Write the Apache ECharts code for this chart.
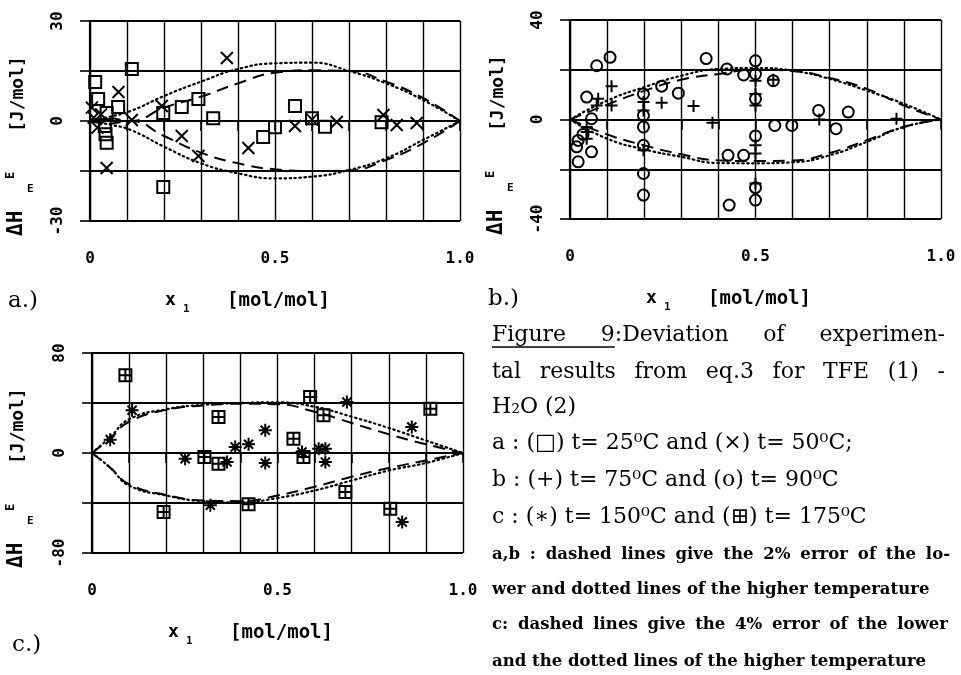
<!DOCTYPE html>
<html><head><meta charset="utf-8">
<script src="https://cdn.jsdelivr.net/npm/echarts@6/dist/echarts.min.js"></script>
<style>html,body{margin:0;padding:0;background:#fff}#c{width:961px;height:675px}</style>
</head><body><div id="c"></div>
<script>
// ---------- data ----------
// tick labels
const xTickVals = [0, 0.5, 1.0];
const xTickText = ['0', '0.5', '1.0'];
const yTickA = [-30, 0, 30];
const yTickB = [-40, 0, 40];
const yTickC = [-80, 0, 80];

// panel a: error curves (2% of the lower (dashed) and higher (dotted) temperature)
const aCurveX  = [0, 0.05, 0.11, 0.2, 0.3, 0.4, 0.5, 0.6, 0.7, 0.8, 0.9, 1.0];
const aDashUp  = [0, 0.8, 0, 4, 7.3, 11.3, 14.5, 15.2, 15, 11.8, 6.9, 0];
const aDashLo  = [0, -0.8, 0, -4.5, -9.5, -12.7, -14.5, -15, -14.8, -11.7, -6.7, 0];
const aDotUp   = [0, 1.2, 3, 7.5, 11.8, 15.6, 17.3, 17.5, 15, 11.3, 6.3, 0];
const aDotLo   = [0, -1, -2.7, -7.7, -12.7, -15.7, -17.2, -16.7, -14.7, -11.2, -5.7, 0];
// panel a: points, t = 25 C (squares) and t = 50 C (crosses)
const a25X = [0.014, 0.022, 0.045, 0.076, 0.113, 0.04, 0.042, 0.045, 0.198, 0.198, 0.248, 0.293, 0.333, 0.468, 0.5, 0.554, 0.6, 0.635, 0.788];
const a25Y = [11.7, 6.6, 2.4, 4.2, 15.6, -1.5, -4, -6.5, 2.4, -19.8, 4.2, 6.6, 0.8, -4.8, -1.9, 4.5, 0.8, -1.7, -0.4];
const a50X = [0.005, 0.01, 0.02, 0.03, 0.045, 0.077, 0.113, 0.194, 0.248, 0.293, 0.37, 0.428, 0.554, 0.6, 0.667, 0.793, 0.829, 0.883];
const a50Y = [4, 1, -2, 2, -14.1, 8.7, 0.3, 4.5, -4.5, -10.5, 18.9, -8.1, -1.5, 0.5, -0.3, 1.8, -1.2, -0.6];

// panel b
const bCurveX  = [0, 0.1, 0.2, 0.3, 0.4, 0.5, 0.6, 0.7, 0.8, 0.9, 1.0];
const bDashUp  = [0, 6, 11.5, 16, 18.3, 20, 19.5, 16.7, 12.3, 5.6, 0];
const bDashLo  = [0, -6, -10.4, -14, -16.4, -16.7, -16.5, -13.5, -8.3, -3, 0];
const bDotUp   = [0, 7.6, 13, 17.6, 20.3, 20.7, 19.6, 16.3, 11.6, 6.3, 0];
const bDotLo   = [0, -7.7, -12, -15, -17.5, -17.6, -17.2, -14.4, -9, -3, 0];
// t = 75 C (plus) and t = 90 C (circles)
const b75X = [0.045, 0.045, 0.045, 0.072, 0.076, 0.112, 0.112, 0.198, 0.198, 0.198, 0.247, 0.333, 0.384, 0.5, 0.5, 0.5, 0.5, 0.5, 0.5, 0.548, 0.672, 0.88];
const b75Y = [-3, -5, -7.7, 5.6, 8.3, 13.4, 5.6, 7, 3.6, -12.4, 6.7, 5.4, -1.3, 15.6, 10.3, 5.6, -10.4, -13.7, -25.7, 16, 0, 0.3];
const b90X = [0.018, 0.022, 0.022, 0.035, 0.045, 0.058, 0.058, 0.072, 0.108, 0.198, 0.198, 0.198, 0.198, 0.198, 0.198, 0.247, 0.292, 0.367, 0.423, 0.426, 0.429, 0.468, 0.468, 0.5, 0.5, 0.5, 0.5, 0.5, 0.5, 0.548, 0.552, 0.598, 0.67, 0.717, 0.75];
const b90Y = [-11, -8.4, -17, -6, 9, 0.3, -13, 21.6, 25, 10.3, 1.6, -3, -10.4, -21.7, -30.4, 13.4, 10.6, 24.5, 20.3, -14.4, -34.4, 17.9, -14.4, 23.6, 18.3, 8.3, -6.6, -27.4, -32.4, 15.6, -2.4, -2.4, 3.6, -3.7, 3];

// panel c (4% error)
const cCurveX  = [0, 0.05, 0.1, 0.2, 0.3, 0.4, 0.5, 0.6, 0.7, 0.8, 0.9, 1.0];
const cDashUp  = [0, 12, 25, 34.5, 38, 39.5, 39, 33, 24, 15, 7, 0];
const cDashLo  = [0, -12, -25, -33.5, -38, -38.5, -34, -27, -19, -12, -6, 0];
const cDotUp   = [0, 13, 27, 35, 38.5, 40, 40.5, 37, 29, 20, 10, 0];
const cDotLo   = [0, -12, -26, -34, -38.5, -39.5, -36, -30, -22, -14, -8, 0];
// t = 150 C (asterisks) and t = 175 C (boxed plus)
const c150X = [0.049, 0.108, 0.251, 0.319, 0.364, 0.386, 0.422, 0.467, 0.467, 0.566, 0.611, 0.629, 0.629, 0.687, 0.836, 0.862];
const c150Y = [10.7, 34.2, -4.5, -41.8, -7.2, 4.8, 7, 18.2, -8, 0.8, 3.5, 3.5, -7.2, 40.8, -55.2, 20.8];
const c175X = [0.09, 0.193, 0.303, 0.341, 0.341, 0.422, 0.543, 0.57, 0.588, 0.624, 0.683, 0.804, 0.912];
const c175Y = [62.2, -47.2, -3.2, 28.8, -8.5, -41, 11.5, -3.2, 44.8, 30.2, -31.2, -44.5, 35.5];

// caption text (justified lines flagged)
const captionBig = [
  'Figure 9:Deviation of experimen-',
  'tal results from eq.3 for TFE (1) -',
  'H\u2082O (2)',
  'a : (\u25A1) t= 25\u2070C and (\u00D7) t= 50\u2070C;',
  'b : (+) t= 75\u2070C and (o) t= 90\u2070C',
  'c : (\u2217) t= 150\u2070C and (\u229E) t= 175\u2070C'
];
const captionBigJustify = [true, true, false, false, false, false];
const captionSmall = [
  'a,b : dashed lines give the 2% error of the lo-',
  'wer and dotted lines of the higher temperature',
  'c: dashed lines give the 4% error of the lower',
  'and the dotted lines of the higher temperature'
];
const captionSmallJustify = [true, false, true, false];

// ---------- chart ----------
const chart = echarts.init(document.getElementById('c'), null, {renderer: 'canvas'});
const pts = (xs, ys) => xs.map((x, i) => [x, ys[i]]);
const mctx = document.createElement('canvas').getContext('2d');
const tw = (t, f) => { mctx.font = f; return mctx.measureText(t).width; };

const MONO = '"DejaVu Sans Mono"';
const SERIF = '"DejaVu Serif"';

const SYM_X = 'path://M0,0L10,10M10,0L0,10';
const SYM_PLUS = 'path://M5,0L5,10M0,5L10,5';
const SYM_AST = 'path://M5,0L5,10M0,5L10,5M1.5,1.5L8.5,8.5M8.5,1.5L1.5,8.5';
const SYM_BOXPLUS = 'path://M0,0L10,0L10,10L0,10ZM5,0L5,10M0,5L10,5';

const grids = [
  {left: 90, top: 21, width: 370, height: 200},
  {left: 570, top: 20, width: 371, height: 199},
  {left: 92, top: 353, width: 371, height: 200}
];

function xAxis(gi) {
  return {
    type: 'value', gridIndex: gi, min: 0, max: 1, interval: 0.1,
    axisLine: {show: true, lineStyle: {color: '#000', width: 2.2}},
    axisTick: {show: true, length: 10, lineStyle: {color: '#000', width: 1.6}},
    splitLine: {show: true, lineStyle: {color: '#000', width: 1.4}},
    axisLabel: {
      margin: 30, color: '#000', fontFamily: MONO, fontWeight: 'bold', fontSize: 16,
      formatter: v => { const k = xTickVals.findIndex(t => Math.abs(t - v) < 1e-9); return k >= 0 ? xTickText[k] : ''; }
    }
  };
}
function yAxis(gi, ticks) {
  const mx = ticks[2];
  return {
    type: 'value', gridIndex: gi, min: -mx, max: mx, interval: mx / 2,
    axisLine: {show: true, lineStyle: {color: '#000', width: 2.2}},
    axisTick: {show: true, length: 10, lineStyle: {color: '#000', width: 1.6}},
    splitLine: {show: true, lineStyle: {color: '#000', width: 2.2}},
    axisLabel: {
      rotate: 90, margin: 24, color: '#000', fontFamily: MONO, fontWeight: 'bold', fontSize: 16,
      formatter: v => ticks.includes(v) ? String(v) : ''
    }
  };
}

function curve(gi, xs, ys, dotted) {
  return {
    type: 'line', xAxisIndex: gi, yAxisIndex: gi, data: pts(xs, ys), smooth: true,
    showSymbol: false, silent: true, z: 3,
    lineStyle: dotted
      ? {color: '#000', width: 2.2, type: [1.5, 3.5], cap: 'round'}
      : {color: '#000', width: 2, type: [12, 7]}
  };
}
function marks(gi, xs, ys, symbol, size) {
  return {
    type: 'scatter', xAxisIndex: gi, yAxisIndex: gi, data: pts(xs, ys),
    symbol: symbol, symbolSize: size, z: 5, silent: true,
    itemStyle: {color: 'transparent', borderColor: '#000', borderWidth: 2, opacity: 1}
  };
}

// texts
const graphics = [];
function txt(x, y, text, font, extra) {
  graphics.push(Object.assign({
    type: 'text', x: x, y: y, silent: true,
    style: Object.assign({text: text, fill: '#000', align: 'left', verticalAlign: 'middle'}, font)
  }, extra || {}));
}
function fontStr(f) { return (f.fontWeight ? f.fontWeight + ' ' : '') + f.fontSize + 'px ' + f.fontFamily; }
// place a line, either natural or justified between x0 and x1; returns x positions of words
function line(text, x0, x1, y, f, justify) {
  if (!justify) { txt(x0, y, text, f); return [x0]; }
  const words = text.split(' ');
  const fs = fontStr(f);
  const widths = words.map(w => tw(w, fs));
  const gap = (x1 - x0 - widths.reduce((a, b) => a + b, 0)) / (words.length - 1);
  let x = x0; const xs = [];
  words.forEach((w, i) => { txt(x, y, w, f); xs.push(x); x += widths[i] + gap; });
  return xs;
}

// y axis names for the three panels
[[18, 0, 0], [498, -1, 480], [18, 332, 0]].forEach(([xj, dy, dx]) => {
  txt(xj, 132 + dy, '[J/mol]', {fontFamily: MONO, fontWeight: 'bold', fontSize: 18}, {rotation: Math.PI / 2});
  txt(17 + dx, 236 + dy, '\u0394H', {fontFamily: MONO, fontWeight: 'bold', fontSize: 21}, {rotation: Math.PI / 2});
  txt(11 + dx, 179 + dy, 'E', {fontFamily: MONO, fontWeight: 'bold', fontSize: 12}, {rotation: Math.PI / 2});
  txt(27 + dx, 189 + dy, 'E', {fontFamily: MONO, fontWeight: 'bold', fontSize: 11});
});
// x axis names
[[165, 300], [646, 298], [168, 632]].forEach(([x0, y0]) => {
  txt(x0, y0, 'x', {fontFamily: MONO, fontWeight: 'bold', fontSize: 18});
  txt(x0 + 18, y0 + 9, '1', {fontFamily: MONO, fontWeight: 'bold', fontSize: 11});
  txt(x0 + 62, y0 + 1, '[mol/mol]', {fontFamily: MONO, fontWeight: 'bold', fontSize: 19});
});
// panel labels
txt(8, 301, 'a.)', {fontFamily: SERIF, fontSize: 23});
txt(488, 299, 'b.)', {fontFamily: SERIF, fontSize: 23});
txt(12, 645, 'c.)', {fontFamily: SERIF, fontSize: 23});

// caption
const bigFS = Math.min(22, 22 * 405 / tw(captionBig[5], '22px ' + SERIF));
const smallFS = Math.min(17, 16 * 438 / tw(captionSmall[1], 'bold 16px ' + SERIF));
const bigF = {fontFamily: SERIF, fontSize: bigFS};
const smallF = {fontFamily: SERIF, fontWeight: 'bold', fontSize: smallFS};
const bigY = [335, 372, 407, 443, 480, 517];
const smallY = [555, 590, 625, 662];
const bigRight = [945, 945];
const smallRight = [950, 0, 948, 0];
let firstXs = null;
captionBig.forEach((t, i) => {
  const xs = line(t, 492, bigRight[i] || 0, bigY[i], bigF, captionBigJustify[i]);
  if (i === 0) firstXs = xs;
});
captionSmall.forEach((t, i) => line(t, 492, smallRight[i], smallY[i], smallF, captionSmallJustify[i]));
// underline "Figure 9"
const ulEnd = firstXs[1] + tw('9', fontStr(bigF));
graphics.push({type: 'line', silent: true, shape: {x1: 492, y1: 347, x2: ulEnd, y2: 347}, style: {stroke: '#000', lineWidth: 1.5}});

chart.setOption({
  animation: false,
  backgroundColor: '#fff',
  grid: grids,
  xAxis: [xAxis(0), xAxis(1), xAxis(2)],
  yAxis: [yAxis(0, yTickA), yAxis(1, yTickB), yAxis(2, yTickC)],
  series: [
    curve(0, aCurveX, aDashUp, false), curve(0, aCurveX, aDashLo, false),
    curve(0, aCurveX, aDotUp, true), curve(0, aCurveX, aDotLo, true),
    marks(0, a25X, a25Y, 'rect', 12), marks(0, a50X, a50Y, SYM_X, 12),
    curve(1, bCurveX, bDashUp, false), curve(1, bCurveX, bDashLo, false),
    curve(1, bCurveX, bDotUp, true), curve(1, bCurveX, bDotLo, true),
    marks(1, b75X, b75Y, SYM_PLUS, 12), marks(1, b90X, b90Y, 'circle', 11),
    curve(2, cCurveX, cDashUp, false), curve(2, cCurveX, cDashLo, false),
    curve(2, cCurveX, cDotUp, true), curve(2, cCurveX, cDotLo, true),
    marks(2, c150X, c150Y, SYM_AST, 13), marks(2, c175X, c175Y, SYM_BOXPLUS, 12)
  ],
  graphic: graphics
});
</script></body></html>
